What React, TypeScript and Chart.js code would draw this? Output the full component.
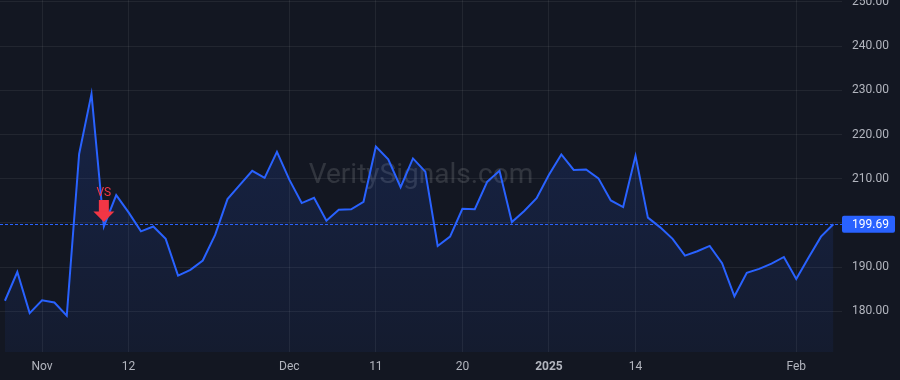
import React, { useEffect, useRef } from "react";
import { Chart, registerables } from "chart.js";

Chart.register(...registerables);

// Trading days shown (Oct 29 2024 .. Feb 6 2025)
const dates: string[] = [
  "2024-10-29", "2024-10-30", "2024-10-31",
  "2024-11-01", "2024-11-04", "2024-11-05", "2024-11-06", "2024-11-07", "2024-11-08",
  "2024-11-11", "2024-11-12", "2024-11-13", "2024-11-14", "2024-11-15",
  "2024-11-18", "2024-11-19", "2024-11-20", "2024-11-21", "2024-11-22",
  "2024-11-25", "2024-11-26", "2024-11-27", "2024-11-29",
  "2024-12-02", "2024-12-03", "2024-12-04", "2024-12-05", "2024-12-06",
  "2024-12-09", "2024-12-10", "2024-12-11", "2024-12-12", "2024-12-13",
  "2024-12-16", "2024-12-17", "2024-12-18", "2024-12-19", "2024-12-20",
  "2024-12-23", "2024-12-24", "2024-12-26", "2024-12-27", "2024-12-30", "2024-12-31",
  "2025-01-02", "2025-01-03", "2025-01-06", "2025-01-07", "2025-01-08", "2025-01-10",
  "2025-01-13", "2025-01-14", "2025-01-15", "2025-01-16", "2025-01-17",
  "2025-01-21", "2025-01-22", "2025-01-23", "2025-01-24",
  "2025-01-27", "2025-01-28", "2025-01-29", "2025-01-30", "2025-01-31",
  "2025-02-03", "2025-02-04", "2025-02-05", "2025-02-06",
];

const closes: number[] = [
  182.4, 188.9, 179.6,
  182.5, 182.0, 179.0, 215.6, 229.2, 199.2,
  206.3, 202.4, 198.1, 199.2, 196.4,
  188.1, 189.4, 191.5, 197.3, 205.4,
  208.6, 211.8, 210.2, 216.1,
  209.8, 204.5, 205.7, 200.5, 203.0,
  203.1, 204.8, 217.3, 214.4, 208.1,
  214.6, 211.6, 194.8, 196.9, 203.2,
  203.1, 209.3, 211.8, 200.2, 202.7, 205.6,
  210.9, 215.5, 212.0, 212.1, 210.1, 205.1,
  203.6, 215.2, 201.2, 199.0, 196.4,
  192.6, 193.6, 194.8, 190.9,
  183.4, 188.7, 189.6, 190.8, 192.3,
  187.3, 192.2, 196.9, 199.69,
];

const xTickDates: string[] = [
  "2024-11-01", "2024-11-12", "2024-12-02", "2024-12-11",
  "2024-12-20", "2025-01-02", "2025-01-14", "2025-02-03",
];
const xTickLabels: string[] = ["Nov", "12", "Dec", "11", "20", "2025", "14", "Feb"];
const boldTickLabels: string[] = ["2025"];

const yTicks: number[] = [180, 190, 200, 210, 220, 230, 240, 250];
const yMin = 170.8;
const yMax = 250.45;

const markerDate = "2024-11-08";
const markerText = "VS";
const watermark = "VeritySignals.com";

const BG = "#131722";
const LINE = "#2962ff";
const TEXT = "#b2b5be";
const GRID = "rgba(255,255,255,0.065)";
const FONT = "Roboto, 'Liberation Sans', Arial, sans-serif";

export default function App() {
  const ref = useRef<HTMLCanvasElement | null>(null);

  useEffect(() => {
    const canvas = ref.current;
    if (!canvas) return;
    const data = closes.map((y, i) => ({ x: i, y }));
    const tickIdx = xTickDates.map((d) => dates.indexOf(d));
    const last = closes[closes.length - 1];
    const markerIdx = dates.indexOf(markerDate);

    const overlay = {
      id: "overlay",
      beforeDraw(chart: any) {
        const c = chart.ctx;
        c.save();
        c.fillStyle = BG;
        c.fillRect(0, 0, chart.width, chart.height);
        c.restore();
      },
      beforeDatasetsDraw(chart: any) {
        const c = chart.ctx;
        const a = chart.chartArea;
        c.save();
        c.font = `28px ${FONT}`;
        c.fillStyle = "rgba(255,255,255,0.13)";
        c.textAlign = "center";
        c.textBaseline = "alphabetic";
        c.fillText(watermark, (a.left + a.right) / 2, 183);
        c.restore();
      },
      afterDatasetsDraw(chart: any) {
        const c = chart.ctx;
        const a = chart.chartArea;
        const xs = chart.scales.x;
        const ys = chart.scales.y;
        // last price dotted line
        const py = Math.round(ys.getPixelForValue(last)) + 0.5;
        c.save();
        c.strokeStyle = LINE;
        c.lineWidth = 1;
        c.setLineDash([3, 2]);
        c.beginPath();
        c.moveTo(a.left, py);
        c.lineTo(a.right, py);
        c.stroke();
        c.restore();

        // marker arrow
        const mx = xs.getPixelForValue(markerIdx);
        const my = ys.getPixelForValue(closes[markerIdx]);
        const tip = my - 4.5;
        c.save();
        c.fillStyle = "#f23645";
        c.fillRect(mx - 5, tip - 22, 10, 12);
        c.beginPath();
        c.moveTo(mx - 10.5, tip - 10.5);
        c.lineTo(mx + 10.5, tip - 10.5);
        c.lineTo(mx, tip);
        c.closePath();
        c.fill();
        c.font = `12px ${FONT}`;
        c.textAlign = "center";
        c.textBaseline = "alphabetic";
        c.fillText(markerText, mx, tip - 26);
        c.restore();
      },
      afterDraw(chart: any) {
        const c = chart.ctx;
        const a = chart.chartArea;
        const ys = chart.scales.y;
        const py = ys.getPixelForValue(last);
        c.save();
        c.fillStyle = LINE;
        c.beginPath();
        if ((c as any).roundRect) (c as any).roundRect(a.right, py - 8.5, 53, 17, 2);
        else c.rect(a.right, py - 8.5, 53, 17);
        c.fill();
        c.fillStyle = "#ffffff";
        c.font = `12px ${FONT}`;
        c.textAlign = "left";
        c.textBaseline = "middle";
        c.fillText(last.toFixed(2), a.right + 10, py + 0.5);
        c.restore();
      },
    };

    const chart = new Chart(canvas, {
      type: "line",
      data: {
        datasets: [
          {
            data,
            borderColor: LINE,
            borderWidth: 2,
            pointRadius: 0,
            tension: 0,
            fill: "start",
            backgroundColor: (ctx: any) => {
              const { chart } = ctx;
              const area = chart.chartArea;
              if (!area) return "rgba(41,98,255,0.12)";
              const g = chart.ctx.createLinearGradient(0, area.top, 0, area.bottom);
              g.addColorStop(0, "rgba(41,98,255,0.2)");
              g.addColorStop(1, "rgba(41,98,255,0.06)");
              return g;
            },
          },
        ],
      },
      options: {
        animation: false,
        responsive: false,
        layout: { padding: 0 },
        plugins: {
          legend: { display: false },
          tooltip: { enabled: false },
        },
        scales: {
          x: {
            type: "linear",
            min: -0.4,
            max: 67.7,
            border: { display: false },
            grid: { color: GRID, drawTicks: false },
            afterBuildTicks: (scale: any) => {
              scale.ticks = tickIdx.map((value) => ({ value }));
            },
            afterFit: (scale: any) => {
              scale.height = 28;
              scale.paddingLeft = 0;
              scale.paddingRight = 0;
            },
            ticks: {
              padding: 8,
              maxRotation: 0,
              autoSkip: false,
              color: TEXT,
              font: (ctx: any) => {
                const lbl = ctx.tick ? ctx.tick.label : "";
                return {
                  family: FONT,
                  size: 12,
                  weight: boldTickLabels.includes(lbl) ? "bold" : "normal",
                };
              },
              callback: (v: any) => {
                const k = tickIdx.indexOf(Math.round(Number(v)));
                return k >= 0 ? xTickLabels[k] : "";
              },
            },
          },
          y: {
            position: "right",
            min: yMin,
            max: yMax,
            border: { display: false },
            grid: { color: GRID, drawTicks: false },
            afterBuildTicks: (scale: any) => {
              scale.ticks = yTicks.map((value) => ({ value }));
            },
            afterFit: (scale: any) => {
              scale.width = 58;
              scale.paddingTop = 0;
              scale.paddingBottom = 0;
            },
            ticks: {
              padding: 10,
              color: TEXT,
              font: { family: FONT, size: 12 },
              callback: (v: any) => Number(v).toFixed(2),
            },
          },
        },
      },
      plugins: [overlay],
    } as any);
    return () => chart.destroy();
  }, []);

  return (
    <div
      style={{
        position: "fixed",
        left: 0,
        top: 0,
        width: 900,
        height: 380,
        background: BG,
        overflow: "hidden",
      }}
    >
      <canvas ref={ref} width={900} height={380} style={{ display: "block" }} />
    </div>
  );
}
